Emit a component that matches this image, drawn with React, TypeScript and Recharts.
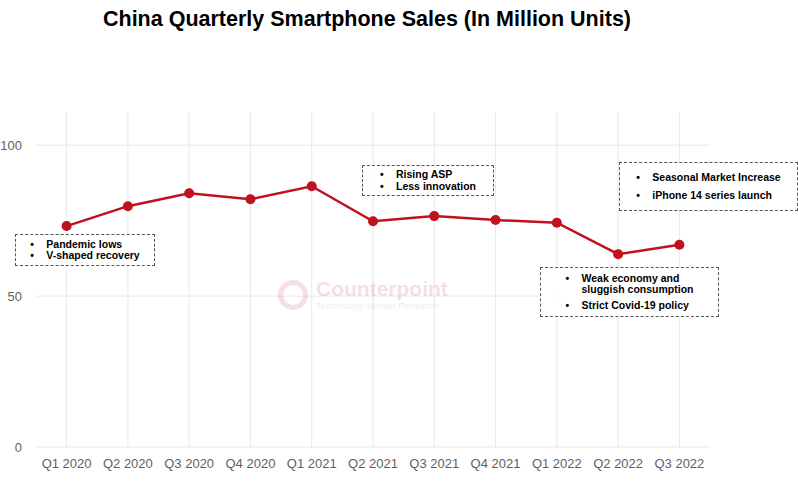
import React from 'react';
import { LineChart, Line, XAxis, YAxis, ReferenceLine } from 'recharts';

const quarters = ['Q1 2020', 'Q2 2020', 'Q3 2020', 'Q4 2020', 'Q1 2021', 'Q2 2021', 'Q3 2021', 'Q4 2021', 'Q1 2022', 'Q2 2022', 'Q3 2022'];
const sales = [73.2, 79.8, 84.1, 82.1, 86.4, 74.8, 76.5, 75.2, 74.3, 63.9, 67.0];
const yTicks = [0, 50, 100];
const yMax = 111;

const data = quarters.map((q, i) => ({ q, v: sales[i] }));

const FONT = '"Liberation Sans", Arial, sans-serif';
const RED = '#C0111F';
const GRID = '#e8e8e8';

type Note = { left: number; top: number; width: number; height: number; items: string[][]; gap: number };

const notes: Note[] = [
  { left: 15, top: 234, width: 140, height: 32, items: [['Pandemic lows'], ['V-shaped recovery']], gap: 0 },
  { left: 362, top: 165, width: 132, height: 31, items: [['Rising ASP'], ['Less innovation']], gap: 0 },
  { left: 619, top: 162, width: 179, height: 49, items: [['Seasonal Market Increase'], ['iPhone 14 series launch']], gap: 6 },
  { left: 540, top: 267, width: 179, height: 50, items: [['Weak economy and', 'sluggish consumption'], ['Strict Covid-19 policy']], gap: 4 },
];

function NoteBox({ n }: { n: Note }) {
  return (
    <div
      style={{
        position: 'absolute',
        left: n.left,
        top: n.top,
        width: n.width,
        height: n.height,
        boxSizing: 'border-box',
        border: '1.2px dashed #555',
        display: 'flex',
        flexDirection: 'column',
        justifyContent: 'center',
        alignItems: 'center',
        fontFamily: FONT,
        fontWeight: 'bold',
        fontSize: 10.5,
        color: '#000',
        background: 'rgba(255,255,255,0.9)',
      }}
    >
      <div>
        {n.items.map((lines, i) => (
          <div key={i} style={{ display: 'flex', marginTop: i > 0 ? n.gap : 0, lineHeight: '11.5px' }}>
            <span style={{ width: 16, textAlign: 'left' }}>•</span>
            <span>
              {lines.map((l, j) => (
                <div key={j}>{l}</div>
              ))}
            </span>
          </div>
        ))}
      </div>
    </div>
  );
}

export default function App() {
  return (
    <div style={{ position: 'absolute', left: 0, top: 0, width: 798, height: 492, background: '#fff', fontFamily: FONT }}>
      <div
        style={{
          position: 'absolute',
          left: 0,
          top: 7,
          width: 734,
          textAlign: 'center',
          fontSize: 21.5,
          fontWeight: 'bold',
          color: '#000',
        }}
      >
        China Quarterly Smartphone Sales (In Million Units)
      </div>
      <div style={{ position: 'absolute', left: 0, top: 0 }}>
        <LineChart width={798} height={492} data={data} margin={{ top: 112, right: 88, bottom: 15, left: 0 }}>
          <XAxis
            dataKey="q"
            axisLine={false}
            tickLine={false}
            tickMargin={6}
            height={30}
            padding={{ left: 30.6, right: 30.6 }}
            tick={{ fill: '#5f5f5f', fontSize: 13, fontFamily: FONT }}
          />
          <YAxis
            domain={[0, yMax]}
            ticks={yTicks}
            width={36}
            axisLine={false}
            tickLine={false}
            tickMargin={8}
            tick={{ fill: '#5f5f5f', fontSize: 13, fontFamily: FONT }}
          />
          {quarters.map((q) => (
            <ReferenceLine key={q} x={q} stroke={GRID} strokeWidth={1} />
          ))}
          {yTicks.map((t) => (
            <ReferenceLine key={t} y={t} stroke={GRID} strokeWidth={1} />
          ))}
          <Line
            type="linear"
            dataKey="v"
            stroke={RED}
            strokeWidth={2.5}
            dot={{ r: 5, fill: RED, stroke: RED, strokeWidth: 0 }}
            isAnimationActive={false}
          />
        </LineChart>
      </div>
      <div
        style={{
          position: 'absolute',
          left: 278,
          top: 278,
          display: 'flex',
          alignItems: 'center',
          opacity: 0.13,
          color: RED,
          pointerEvents: 'none',
        }}
      >
        <div style={{ width: 30, height: 30, borderRadius: 15, border: `5px solid ${RED}`, boxSizing: 'border-box', marginRight: 8 }} />
        <div>
          <div style={{ fontSize: 21, fontWeight: 'bold', lineHeight: '22px' }}>Counterpoint</div>
          <div style={{ fontSize: 9.5, color: '#777', lineHeight: '11px' }}>Technology Market Research</div>
        </div>
      </div>
      {notes.map((n, i) => (
        <NoteBox key={i} n={n} />
      ))}
    </div>
  );
}
